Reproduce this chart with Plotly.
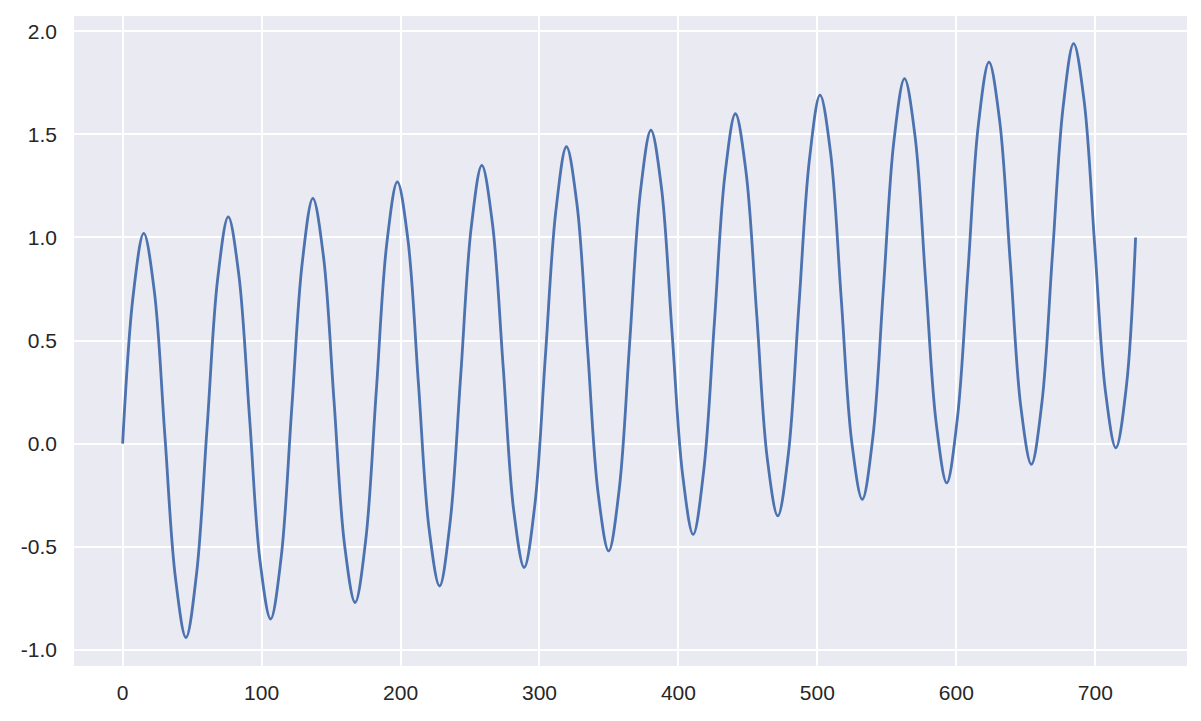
import plotly.graph_objects as go

# Values (peaks, troughs, crossings and intermediate points)
x_vals = [0.0, 7.6, 15.2, 22.8, 30.4, 38.0, 45.6, 53.2, 60.8, 68.4, 76.0, 83.6,
          91.3, 98.9, 106.5, 114.1, 121.7, 129.3, 136.9, 144.5, 152.1, 159.7, 167.3, 174.9,
          182.5, 190.1, 197.7, 205.3, 212.9, 220.5, 228.1, 235.7, 243.3, 250.9, 258.5, 266.1,
          273.8, 281.4, 289.0, 296.6, 304.2, 311.8, 319.4, 327.0, 334.6, 342.2, 349.8, 357.4,
          365.0, 372.6, 380.2, 387.8, 395.4, 403.0, 410.6, 418.2, 425.8, 433.4, 441.0, 448.6,
          456.3, 463.9, 471.5, 479.1, 486.7, 494.3, 501.9, 509.5, 517.1, 524.7, 532.3, 539.9,
          547.5, 555.1, 562.7, 570.3, 577.9, 585.5, 593.1, 600.7, 608.3, 615.9, 623.5, 631.1,
          638.8, 646.4, 654.0, 661.6, 669.2, 676.8, 684.4, 692.0, 699.6, 707.2, 714.8, 722.4,
          729.0]
y_vals = [0.00, 0.72, 1.02, 0.74, 0.04, -0.65, -0.94, -0.63, 0.08, 0.80, 1.10, 0.82,
          0.13, -0.57, -0.85, -0.55, 0.17, 0.88, 1.19, 0.91, 0.21, -0.49, -0.77, -0.47,
          0.25, 0.97, 1.27, 0.99, 0.29, -0.41, -0.69, -0.38, 0.33, 1.05, 1.35, 1.07,
          0.38, -0.32, -0.60, -0.30, 0.42, 1.13, 1.44, 1.16, 0.46, -0.24, -0.52, -0.22,
          0.50, 1.22, 1.52, 1.24, 0.54, -0.15, -0.44, -0.13, 0.58, 1.30, 1.60, 1.32,
          0.63, -0.07, -0.35, -0.05, 0.67, 1.38, 1.69, 1.41, 0.71, 0.01, -0.27, 0.03,
          0.75, 1.47, 1.77, 1.49, 0.79, 0.10, -0.19, 0.12, 0.83, 1.55, 1.85, 1.57,
          0.88, 0.18, -0.10, 0.20, 0.92, 1.63, 1.94, 1.66, 0.96, 0.26, -0.02, 0.28,
          1.00]

x_ticks = [0, 100, 200, 300, 400, 500, 600, 700]
y_ticks = [-1.0, -0.5, 0.0, 0.5, 1.0, 1.5, 2.0]
y_tick_text = ["-1.0", "-0.5", "0.0", "0.5", "1.0", "1.5", "2.0"]

fig = go.Figure()
fig.add_trace(go.Scatter(
    x=x_vals, y=y_vals, mode="lines",
    line=dict(color="#4C72B0", width=2.8, shape="spline", smoothing=1.0),
    hoverinfo="skip", showlegend=False,
))

# page body has an 8px margin, so the figure is offset by 8px
fig.update_layout(
    width=1185, height=705,
    paper_bgcolor="white",
    plot_bgcolor="#EAEAF2",
    margin=dict(l=66, r=6, t=8, b=47, autoexpand=False),
    font=dict(family="Liberation Sans, Arial, sans-serif", size=21, color="#262626"),
    showlegend=False,
)
fig.update_xaxes(
    range=[-35, 766], tickvals=x_ticks, showgrid=True, gridcolor="white", gridwidth=2,
    zeroline=False, showline=False, ticks="", ticklabelstandoff=12,
)
fig.update_yaxes(
    range=[-1.078, 2.074], tickvals=y_ticks, ticktext=y_tick_text,
    showgrid=True, gridcolor="white", gridwidth=2,
    zeroline=False, showline=False, ticks="", ticklabelstandoff=16,
)

fig.write_html("out.html")
